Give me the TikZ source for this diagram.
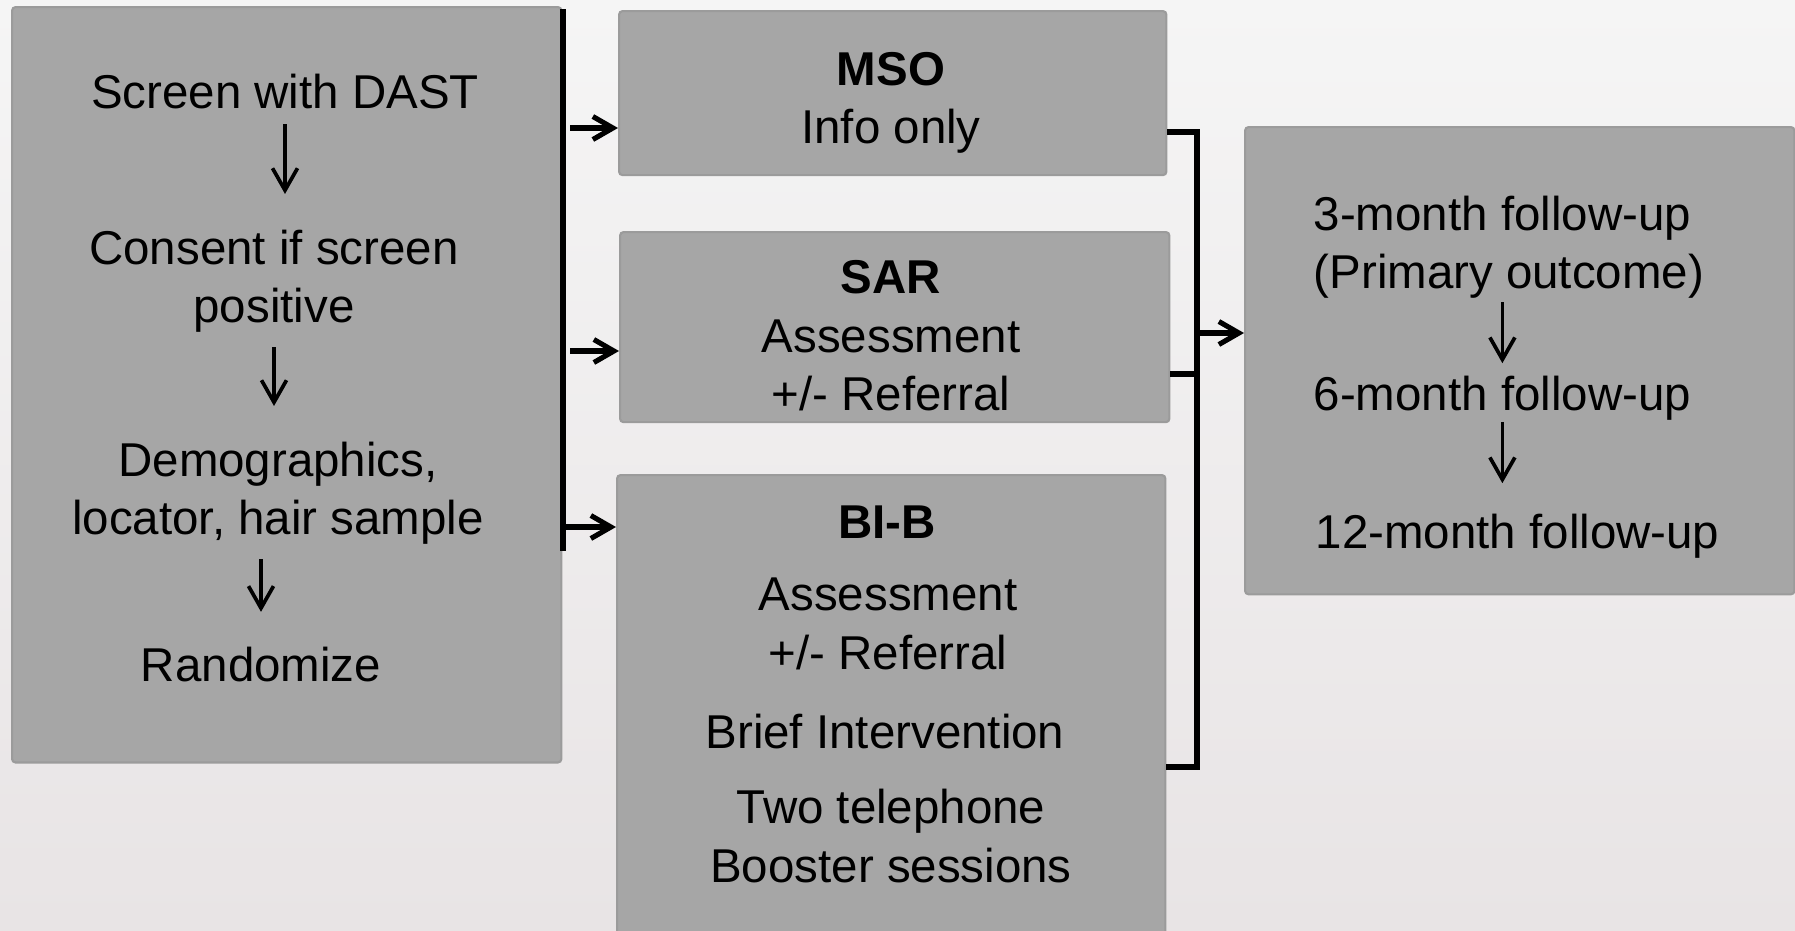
\documentclass[tikz,border=0pt]{standalone}
\usepackage{fontspec}
\setmainfont{Liberation Sans}
\usetikzlibrary{arrows.meta}
\definecolor{boxfill}{RGB}{166,166,166}
\definecolor{boxline}{RGB}{155,155,155}
\definecolor{bgtop}{RGB}{245,245,245}
\definecolor{bgbottom}{RGB}{232,228,229}

\begin{document}
\begin{tikzpicture}[x=0.01cm, y=-0.01cm,
    box/.style={draw=boxline, fill=boxfill, line width=0.6pt, rounded corners=1pt, inner sep=0pt, anchor=north west},
    txt/.style={inner sep=0pt, align=center, font=\fontsize{13.5pt}{16.6pt}\selectfont},
    flow/.style={line width=1.05pt, -{Straight Barb[length=0.22cm,width=0.25cm]}, shorten <=0.14cm, shorten >=0.35cm},
    conn/.style={line width=1.45pt, -{Straight Barb[length=0.2cm,width=0.23cm]}},
    bar/.style={line width=1.6pt}]
  \useasboundingbox (0,0) rectangle (1795,930);
  \clip (0,0) rectangle (1795,930);
  \shade[top color=bgtop, bottom color=bgbottom] (0,0) rectangle (1795,930);

  \node[box, minimum width=5.49cm, minimum height=7.55cm] (left) at (11,6) {};
  \node[txt] (dast) at (285,92) {Screen with DAST};
  \node[txt] (consent) at (274,281) {Consent if screen\\positive};
  \node[txt] (demo) at (278,493) {Demographics,\\locator, hair sample};
  \node[txt] (rand) at (261,665) {Randomize};
  \draw[flow] (dast.south) -- (dast.south |- consent.north);
  \draw[flow] (consent.south) -- (consent.south |- demo.north);
  \draw[flow] (demo.south -| rand) -- (rand.north);

  \node[box, minimum width=5.47cm, minimum height=1.64cm] (mso) at (618,10) {};
  \node[box, minimum width=5.49cm, minimum height=1.90cm] (sar) at (619,231) {};
  \node[box, minimum width=5.48cm, minimum height=4.60cm] (bib) at (616,474) {};
  \node[txt] (msotext) at (891,103) {\textbf{MSO}\\Info only};
  \node[txt] (sartext) at (891,336) {\textbf{SAR}\\Assessment\\+/- Referral};
  \node[txt] (bibtitle) at (887,522) {\textbf{BI-B}};
  \node[txt] (bibassess) at (888,624) {Assessment\\+/- Referral};
  \node[txt] (brief) at (885,732) {Brief Intervention};
  \node[txt] (booster) at (891,836) {Two telephone\\Booster sessions};

  \node[box, minimum width=5.49cm, minimum height=4.67cm] (fu) at (1244,126) {};
  \node[txt, anchor=west, align=left] (fu3) at (1313,247) {3-month follow-up\\(Primary outcome)};
  \node[txt, anchor=west] (fu6) at (1313,398) {6-month follow-up};
  \node[txt, anchor=west] (fu12) at (1315,536) {12-month follow-up};
  \draw[flow, shorten <=0.03cm, shorten >=0.12cm] (fu3.south -| fu6) -- (fu6.north);
  \draw[flow, shorten <=0.01cm, shorten >=0.3cm] (fu6.south) -- (fu6.south |- fu12.north);

  \coordinate (bartop) at (563,9);
  \coordinate (barbot) at (563,551);
  \coordinate (tomso) at (570,128);
  \coordinate (tosar) at (570,351);
  \coordinate (tobib) at (563,527);
  \draw[bar] (bartop) -- (barbot);
  \draw[conn] (tomso) -- (tomso -| mso.west);
  \draw[conn] (tosar) -- (tosar -| sar.west);
  \draw[conn] (tobib) -- (tobib -| bib.west);

  \coordinate (jtop) at (1197,132);
  \coordinate (jmid) at (1197,374);
  \coordinate (jbot) at (1197,767);
  \coordinate (jout) at (1199,333);
  \draw[bar] (jtop -| mso.east) -- (jtop) -- (jbot) -- (jbot -| bib.east);
  \draw[bar] (jmid -| sar.east) -- (jmid);
  \draw[conn] (jout) -- (jout -| fu.west);
\end{tikzpicture}
\end{document}
